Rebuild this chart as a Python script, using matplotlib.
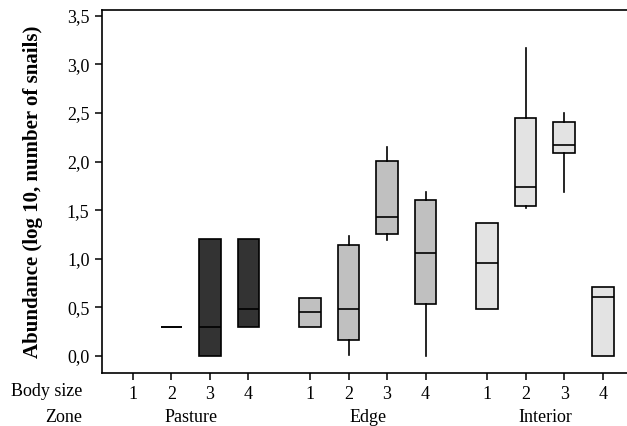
import matplotlib
matplotlib.use("Agg")
import matplotlib.pyplot as plt
from matplotlib.ticker import FuncFormatter
from matplotlib.transforms import blended_transform_factory

# zones and body size classes
zones = ["Pasture", "Edge", "Interior"]
body_sizes = ["1", "2", "3", "4"]
zone_colors = ["#333333", "#c0c0c0", "#e3e3e3"]

# box statistics, per zone x body size (None = no data)
q1 = [[None, 0.30, 0.00, 0.30], [0.30, 0.16, 1.26, 0.53], [0.48, 1.54, 2.09, 0.00]]
med = [[None, 0.30, 0.30, 0.48], [0.45, 0.48, 1.43, 1.06], [0.96, 1.74, 2.17, 0.61]]
q3 = [[None, 0.30, 1.20, 1.20], [0.60, 1.14, 2.01, 1.61], [1.37, 2.45, 2.41, 0.71]]
whislo = [[None, 0.30, 0.00, 0.30], [0.30, 0.01, 1.19, 0.00], [0.48, 1.52, 1.69, 0.00]]
whishi = [[None, 0.30, 1.20, 1.20], [0.60, 1.23, 2.15, 1.69], [1.37, 3.17, 2.50, 0.71]]

plt.rcParams['font.family'] = ['Liberation Serif', 'DejaVu Serif']

fig = plt.figure(figsize=(6.27, 4.26), dpi=100)
ax = fig.add_axes([0.1627, 0.1244, 0.8373, 0.8521])

gap = 1.6
for z in range(len(zones)):
    stats = []
    pos = []
    for b in range(len(body_sizes)):
        if med[z][b] is None:
            continue
        stats.append(dict(med=med[z][b], q1=q1[z][b], q3=q3[z][b],
                          whislo=whislo[z][b], whishi=whishi[z][b], fliers=[]))
        pos.append(z * (3 + gap) + b)
    ax.bxp(stats, positions=pos, widths=0.56, patch_artist=True,
           showcaps=False, showfliers=False,
           boxprops=dict(facecolor=zone_colors[z], edgecolor='black', linewidth=1.2),
           medianprops=dict(color='black', linewidth=1.2),
           whiskerprops=dict(color='black', linewidth=1.2))

ticks = [z * (3 + gap) + b for z in range(len(zones)) for b in range(len(body_sizes))]
ax.set_xticks(ticks)
ax.set_xticklabels(body_sizes * len(zones))
ax.set_xlim(-0.8, 12.83)
ax.set_ylim(-0.175, 3.56)
ax.set_yticks([0, 0.5, 1.0, 1.5, 2.0, 2.5, 3.0, 3.5])
ax.yaxis.set_major_formatter(FuncFormatter(lambda v, p: f"{v:.1f}".replace(".", ",")))
ax.tick_params(labelsize=13, length=5, width=1.1, direction='out', pad=4)
ax.spines['right'].set_visible(False)
for s in ['left', 'bottom', 'top']:
    ax.spines[s].set_linewidth(1.2)

ax.set_ylabel("Abundance (log 10, number of snails)", fontsize=15,
              fontweight='bold')
ax.yaxis.set_label_coords(-0.112, 0.5)

# row labels below the axis
row_y = [1 - 392 / 426, 1 - 418 / 426]
fig.text(82 / 627, row_y[0], "Body size", ha='right', va='center', fontsize=13)
fig.text(82 / 627, row_y[1], "Zone", ha='right', va='center', fontsize=13)
trans = blended_transform_factory(ax.transData, fig.transFigure)
for z in range(len(zones)):
    ax.text(z * (3 + gap) + 1.5, row_y[1], zones[z], transform=trans,
            ha='center', va='center', fontsize=13, clip_on=False)

fig.savefig("out.png", dpi=100)
